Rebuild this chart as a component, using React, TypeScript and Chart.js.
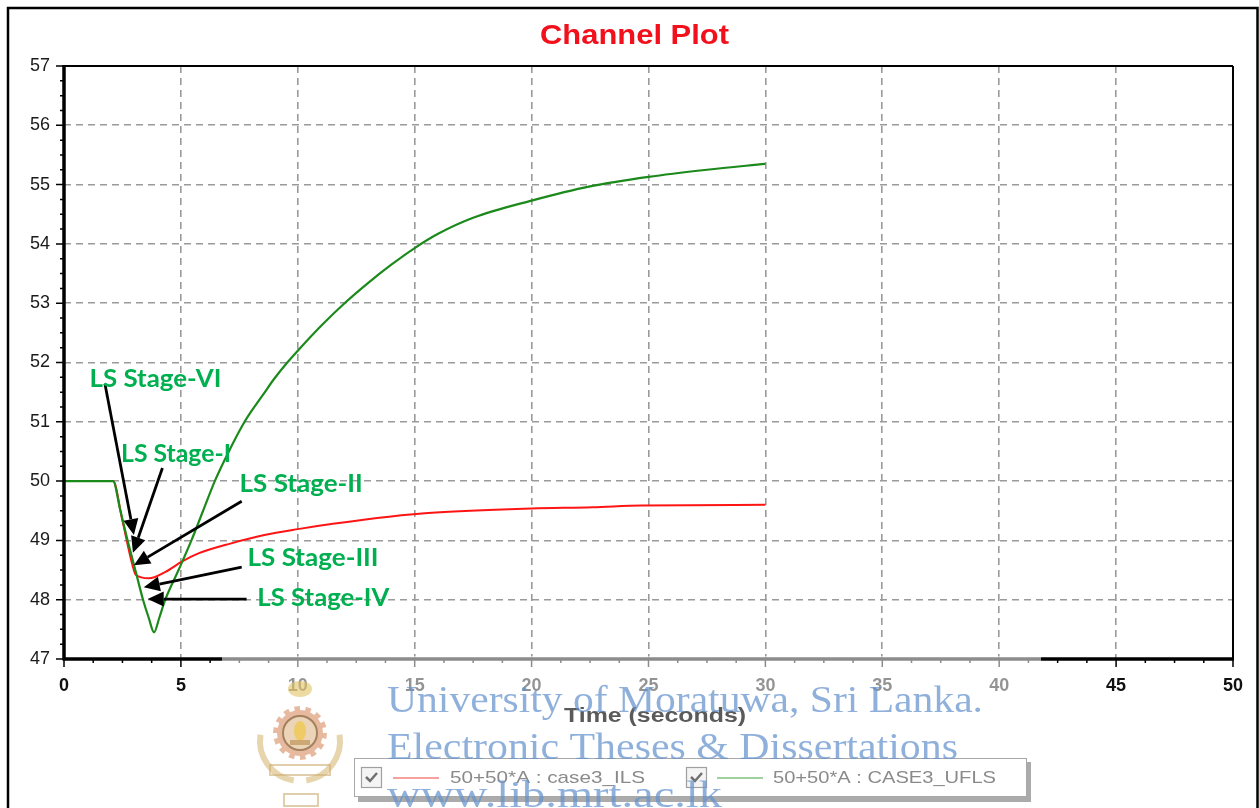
import React, { useEffect, useRef } from "react";
import { Chart, registerables } from "chart.js";
Chart.register(...registerables);

// ---- data ----
const timeGreen = [0, 2.1, 2.4, 2.72, 3.05, 3.38, 3.62, 3.85, 4.08, 4.33, 4.9, 5.45, 5.95, 6.45, 7.05, 7.65, 8.0, 8.5, 9.0, 9.55, 10.0, 11.0, 12.0, 13.0, 14.0, 15.0, 16.0, 17.5, 20.0, 22.5, 25.0, 27.5, 30.0];
const freqGreen = [50, 50, 49.52, 49.0, 48.5, 48.0, 47.7, 47.45, 47.7, 48.0, 48.5, 49.0, 49.5, 50.0, 50.5, 50.95, 51.17, 51.45, 51.73, 52.0, 52.2, 52.62, 53.0, 53.34, 53.65, 53.93, 54.17, 54.44, 54.73, 54.97, 55.13, 55.25, 55.35];
const timeRed = [0, 2.1, 2.5, 2.93, 3.07, 3.63, 4.34, 5.04, 5.75, 7.15, 8.57, 10.0, 11.5, 13.9, 15.9, 20.0, 22.6, 24.7, 30.0];
const freqRed = [50, 50, 49.33, 48.58, 48.42, 48.36, 48.47, 48.64, 48.78, 48.95, 49.09, 49.19, 49.28, 49.4, 49.47, 49.54, 49.56, 49.59, 49.6];
const seriesLabels = ["50+50*A : case3_ILS", "50+50*A : CASE3_UFLS"];
const titleText = "Channel Plot";
const xAxisTitle = "Time (seconds)";
const xMin = 0, xMax = 50, xStep = 5;
const yMin = 47, yMax = 57, yStep = 1;

const stageLabels = ["LS Stage-VI", "LS Stage-I", "LS Stage-II", "LS Stage-III", "LS Stage-IV"];
const stageLabelT = [1.09, 2.44, 7.51, 7.85, 8.27];
const stageLabelV = [51.74, 50.47, 49.97, 48.72, 48.05];
const arrowFromT = [1.75, 4.21, 7.6, 7.6, 7.81];
const arrowFromV = [51.64, 50.22, 49.66, 48.55, 48.01];
const arrowToT = [2.99, 2.95, 2.99, 3.41, 3.58];
const arrowToV = [49.09, 48.79, 48.58, 48.21, 48.01];

const watermarkLines = ["University of Moratuwa, Sri Lanka.", "Electronic Theses & Dissertations", "www.lib.mrt.ac.lk"];

// ---- styling helpers ----
const stageWidths = [132, 110, 123, 131, 132];

function fitText(ctx: CanvasRenderingContext2D, text: string, x: number, y: number, width: number, font: string, color: string, align: "left" | "center", baseline: CanvasTextBaseline) {
  ctx.save();
  ctx.font = font;
  ctx.fillStyle = color;
  ctx.textAlign = "left";
  ctx.textBaseline = baseline;
  const w = ctx.measureText(text).width;
  const sx = width / w;
  const left = align === "center" ? x - width / 2 : x;
  ctx.translate(left, y);
  ctx.scale(sx, 1);
  ctx.fillText(text, 0, 0);
  ctx.restore();
}

function drawArrow(ctx: CanvasRenderingContext2D, x1: number, y1: number, x2: number, y2: number) {
  const ang = Math.atan2(y2 - y1, x2 - x1);
  const len = 16, hw = 7.5;
  const bx = x2 - len * Math.cos(ang), by = y2 - len * Math.sin(ang);
  ctx.save();
  ctx.strokeStyle = "#000";
  ctx.fillStyle = "#000";
  ctx.lineWidth = 2.8;
  ctx.beginPath();
  ctx.moveTo(x1, y1);
  ctx.lineTo(bx, by);
  ctx.stroke();
  ctx.beginPath();
  ctx.moveTo(x2, y2);
  ctx.lineTo(bx + hw * Math.sin(ang), by - hw * Math.cos(ang));
  ctx.lineTo(bx - hw * Math.sin(ang), by + hw * Math.cos(ang));
  ctx.closePath();
  ctx.fill();
  ctx.restore();
}

function drawCheckbox(ctx: CanvasRenderingContext2D, x: number, y: number) {
  ctx.save();
  ctx.fillStyle = "#f4f4f4";
  ctx.fillRect(x, y, 20, 20);
  ctx.strokeStyle = "#a0a0a0";
  ctx.lineWidth = 1.2;
  ctx.strokeRect(x + 0.5, y + 0.5, 20, 20);
  ctx.strokeStyle = "#707070";
  ctx.lineWidth = 2.5;
  ctx.beginPath();
  ctx.moveTo(x + 5, y + 10);
  ctx.lineTo(x + 9, y + 14);
  ctx.lineTo(x + 16, y + 6);
  ctx.stroke();
  ctx.restore();
}

function drawLogo(ctx: CanvasRenderingContext2D) {
  ctx.save();
  const cx = 300, cy = 733;
  // wreath
  ctx.strokeStyle = "rgba(215,185,120,0.6)";
  ctx.lineWidth = 6;
  ctx.beginPath();
  ctx.arc(cx, cy + 8, 40, Math.PI * 0.55, Math.PI * 1.05);
  ctx.stroke();
  ctx.beginPath();
  ctx.arc(cx, cy + 8, 40, -Math.PI * 0.05, Math.PI * 0.45);
  ctx.stroke();
  // gear
  ctx.fillStyle = "rgba(215,140,95,0.6)";
  ctx.beginPath();
  const teeth = 14;
  for (let i = 0; i < teeth * 2; i++) {
    const a = (i / (teeth * 2)) * Math.PI * 2;
    const r = i % 2 === 0 ? 27 : 23;
    const a2 = ((i + 1) / (teeth * 2)) * Math.PI * 2;
    if (i === 0) ctx.moveTo(cx + r * Math.cos(a), cy + r * Math.sin(a));
    else ctx.lineTo(cx + r * Math.cos(a), cy + r * Math.sin(a));
    ctx.lineTo(cx + r * Math.cos(a2), cy + r * Math.sin(a2));
  }
  ctx.closePath();
  ctx.fill();
  ctx.fillStyle = "rgba(235,215,185,0.9)";
  ctx.beginPath();
  ctx.arc(cx, cy, 17, 0, Math.PI * 2);
  ctx.fill();
  ctx.strokeStyle = "rgba(140,105,70,0.75)";
  ctx.lineWidth = 2;
  ctx.stroke();
  ctx.fillStyle = "rgba(240,200,80,0.8)";
  ctx.beginPath();
  ctx.ellipse(cx, cy - 2, 6, 10, 0, 0, Math.PI * 2);
  ctx.fill();
  ctx.fillStyle = "rgba(190,150,90,0.7)";
  ctx.fillRect(cx - 10, cy + 7, 20, 5);
  // lion
  ctx.fillStyle = "rgba(225,195,100,0.6)";
  ctx.beginPath();
  ctx.ellipse(cx, 689, 12, 8, 0, 0, Math.PI * 2);
  ctx.fill();
  // banners
  ctx.strokeStyle = "rgba(205,175,115,0.6)";
  ctx.lineWidth = 2;
  ctx.strokeRect(284, 794, 34, 12);
  ctx.strokeRect(270, 765, 60, 10);
  ctx.restore();
}

const framePlugin = {
  id: "framePlugin",
  beforeDraw(chart: any) {
    const ctx = chart.ctx as CanvasRenderingContext2D;
    ctx.save();
    ctx.fillStyle = "#fff";
    ctx.fillRect(0, 0, chart.width, chart.height);
    ctx.restore();
  },
  afterDraw(chart: any) {
    const ctx = chart.ctx as CanvasRenderingContext2D;
    const xs = chart.scales.x, ys = chart.scales.y;
    const a = chart.chartArea;
    ctx.save();
    // outer frame
    ctx.strokeStyle = "#000";
    ctx.lineWidth = 2.5;
    ctx.strokeRect(8, 8, 1249.5, 900);
    // plot borders
    ctx.lineWidth = 2;
    ctx.beginPath();
    ctx.moveTo(a.left, a.top); ctx.lineTo(a.right, a.top);
    ctx.moveTo(a.right, a.top); ctx.lineTo(a.right, a.bottom);
    ctx.stroke();
    ctx.lineWidth = 3.5;
    ctx.beginPath();
    ctx.moveTo(a.left, a.top - 1); ctx.lineTo(a.left, a.bottom + 1.5);
    ctx.moveTo(a.left - 1, a.bottom); ctx.lineTo(a.right + 1, a.bottom);
    ctx.stroke();
    // tick marks
    ctx.lineWidth = 1.5;
    ctx.beginPath();
    for (let v = yMin; v <= yMax + 1e-9; v += yStep / 4) {
      const py = ys.getPixelForValue(v);
      const major = Math.abs(v - Math.round(v)) < 1e-6;
      ctx.moveTo(a.left - (major ? 8 : 4), py); ctx.lineTo(a.left, py);
    }
    for (let t = xMin; t <= xMax + 1e-9; t += xStep / 4) {
      const px = xs.getPixelForValue(t);
      const major = Math.abs(t / xStep - Math.round(t / xStep)) < 1e-6;
      ctx.moveTo(px, a.bottom); ctx.lineTo(px, a.bottom + (major ? 8 : 4));
    }
    ctx.stroke();
    ctx.restore();

    // annotations
    for (let i = 0; i < stageLabels.length; i++) {
      drawArrow(ctx, xs.getPixelForValue(arrowFromT[i]), ys.getPixelForValue(arrowFromV[i]), xs.getPixelForValue(arrowToT[i]), ys.getPixelForValue(arrowToV[i]));
    }
    for (let i = 0; i < stageLabels.length; i++) {
      fitText(ctx, stageLabels[i], xs.getPixelForValue(stageLabelT[i]), ys.getPixelForValue(stageLabelV[i]) + 1, stageWidths[i], "bold 25px Lato", "#00b050", "left", "middle");
    }

    // title
    fitText(ctx, titleText, 634.5, 44, 189, "bold 27px 'Liberation Sans'", "#f2101c", "center", "alphabetic");

    // watermark wash
    ctx.save();
    ctx.fillStyle = "rgba(255,255,255,0.55)";
    ctx.fillRect(222, 656, 819, 152);
    ctx.restore();
    drawLogo(ctx);

    // axis title
    fitText(ctx, xAxisTitle, 655, 722, 182, "bold 21px 'Liberation Sans'", "#5a5a5a", "center", "alphabetic");

    // legend
    ctx.save();
    ctx.fillStyle = "rgba(150,150,150,0.8)";
    ctx.fillRect(358, 762, 673, 40);
    ctx.fillStyle = "#fff";
    ctx.fillRect(354, 758, 673, 39);
    ctx.strokeStyle = "#a8a8a8";
    ctx.lineWidth = 1;
    ctx.strokeRect(354.5, 758.5, 672, 38);
    ctx.restore();
    drawCheckbox(ctx, 361, 767);
    drawCheckbox(ctx, 686, 767);
    ctx.save();
    ctx.lineWidth = 2;
    ctx.strokeStyle = "#f7a0a0";
    ctx.beginPath(); ctx.moveTo(393, 778); ctx.lineTo(439, 778); ctx.stroke();
    ctx.strokeStyle = "#9fd19f";
    ctx.beginPath(); ctx.moveTo(717, 778); ctx.lineTo(763, 778); ctx.stroke();
    ctx.restore();
    fitText(ctx, seriesLabels[0], 450, 778, 195, "17px 'Liberation Sans'", "#8a8a8a", "left", "middle");
    fitText(ctx, seriesLabels[1], 773, 778, 223, "17px 'Liberation Sans'", "#8a8a8a", "left", "middle");

    // watermark text
    const wmColor = "rgba(100,145,205,0.72)";
    fitText(ctx, watermarkLines[0], 387, 712, 596, "38px 'Liberation Serif'", wmColor, "left", "alphabetic");
    fitText(ctx, watermarkLines[1], 387, 759, 571, "38px 'Liberation Serif'", wmColor, "left", "alphabetic");
    fitText(ctx, watermarkLines[2], 387, 807, 335, "38px 'Liberation Serif'", wmColor, "left", "alphabetic");
  },
};

export default function App() {
  const ref = useRef<HTMLCanvasElement | null>(null);
  useEffect(() => {
    if (!ref.current) return;
    const chart = new Chart(ref.current, {
      type: "line",
      data: {
        datasets: [
          {
            label: seriesLabels[0],
            data: timeRed.map((t, i) => ({ x: t, y: freqRed[i] })),
            borderColor: "#ff1414",
            borderWidth: 2,
            pointRadius: 0,
            cubicInterpolationMode: "monotone",
            order: 1,
          },
          {
            label: seriesLabels[1],
            data: timeGreen.map((t, i) => ({ x: t, y: freqGreen[i] })),
            borderColor: "#1b8a1b",
            borderWidth: 2.2,
            pointRadius: 0,
            cubicInterpolationMode: "monotone",
            order: 0,
          },
        ],
      },
      options: {
        animation: false,
        responsive: false,
        maintainAspectRatio: false,
        layout: { padding: { left: 0, top: 66, right: 12, bottom: 0 } },
        plugins: { legend: { display: false }, tooltip: { enabled: false }, title: { display: false } },
        scales: {
          x: {
            type: "linear",
            min: xMin,
            max: xMax,
            afterFit: (s: any) => { s.height = 149; },
            ticks: { stepSize: xStep, autoSkip: false, maxRotation: 0, padding: 16, color: "#111", font: { family: "'Liberation Sans'", size: 18, weight: "bold" } },
            grid: { color: "#9a9a9a", lineWidth: 1.6, drawTicks: false },
            border: { display: false, dash: [7, 5] },
          },
          y: {
            type: "linear",
            min: yMin,
            max: yMax,
            afterFit: (s: any) => { s.width = 64; },
            ticks: { stepSize: yStep, padding: 14, color: "#1a1a1a", font: { family: "'Liberation Sans'", size: 18 } },
            grid: { color: "#9a9a9a", lineWidth: 1.6, drawTicks: false },
            border: { display: false, dash: [7, 5] },
          },
        },
      },
      plugins: [framePlugin],
    } as any);
    return () => chart.destroy();
  }, []);
  return (
    <div style={{ position: "fixed", left: 0, top: 0, width: 1259, height: 808, background: "#fff" }}>
      <canvas ref={ref} width={1259} height={808} style={{ width: 1259, height: 808, display: "block" }} />
    </div>
  );
}
